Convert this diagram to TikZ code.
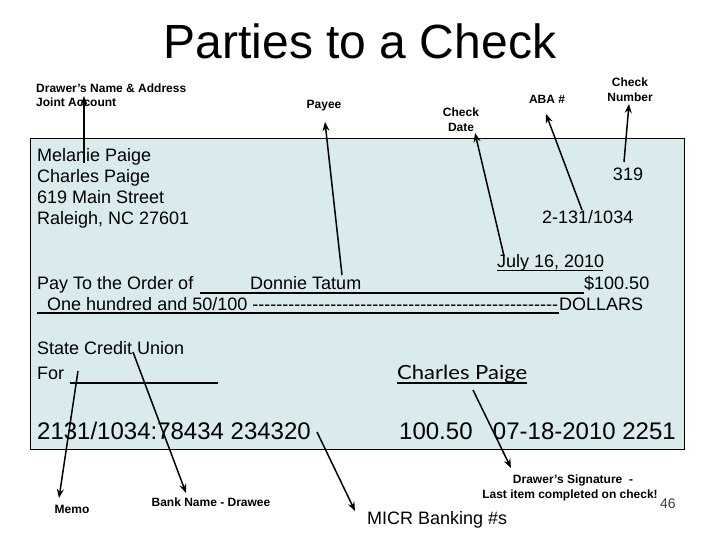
\documentclass[tikz,border=0pt]{standalone}
\usepackage{fontspec}
\setmainfont{Liberation Sans}
\newfontfamily\sigfont{Lato}
\usetikzlibrary{arrows.meta}
\definecolor{checkfill}{RGB}{218,235,238}
\begin{document}
\begin{tikzpicture}[x=1pt,y=-1pt,
  lbl/.style={inner sep=0pt,anchor=base,font=\fontsize{12}{14}\selectfont\bfseries},
  txt/.style={inner sep=0pt,anchor=base west,font=\fontsize{18}{21}\selectfont},
  micr/.style={inner sep=0pt,anchor=base west,font=\fontsize{24}{28}\selectfont},
  arr/.style={line width=1.5pt,-{Stealth[length=9pt,width=7pt]}},
  uline/.style={line width=1.3pt}]
\useasboundingbox (0,0) rectangle (720,540);
\fill[white] (0,0) rectangle (720,540);
% title
\node[inner sep=0pt,anchor=base,font=\fontsize{48}{56}\selectfont] (title) at (360,59) {Parties to a Check};
% check body
\draw[fill=checkfill,line width=1pt] (30,139) rectangle (684,449);
% labels top
\node[lbl,anchor=base west] (drawer1) at (36,93) {Drawer’s Name \& Address};
\node[lbl,anchor=base west] (drawer2) at (36,107) {Joint Account};
\node[lbl] (payee) at (324,109) {Payee};
\node[lbl] (date1) at (461,117) {Check};
\node[lbl] (date2) at (461,132) {Date};
\node[lbl] (aba) at (547,104) {ABA \#};
\node[lbl] (num1) at (630,87) {Check};
\node[lbl] (num2) at (630,102) {Number};
% check contents
\node[txt] (name1) at (37,162) {Melanie Paige};
\node[txt] (name2) at (37,183) {Charles Paige};
\node[txt] (addr1) at (37,204) {619 Main Street};
\node[txt] (addr2) at (37,225) {Raleigh, NC 27601};
\node[txt,anchor=base] (chknum) at (628,181) {319};
\node[txt] (abanum) at (542,224) {2-131/1034};
\node[txt] (date) at (497,267) {July 16, 2010};
\coordinate (dul1) at (497,270.5);
\coordinate (dul2) at (603,270.5);
\draw[uline] (dul1) -- (dul2);
\node[txt] (pay) at (37,289) {Pay To the Order of};
\coordinate (payl) at (200,293);
\coordinate (payr) at (584,293);
\draw[uline] (payl) -- (payr);
\node[txt] (payee2) at (250,289) {Donnie Tatum};
\node[txt] (amount) at (584,289) {\$100.50};
\coordinate (wl) at (37,313);
\coordinate (wr) at (559,313);
\draw[line width=2pt] (wl) -- (wr);
\node[txt] (words) at (47,310) {One hundred and 50/100 \hbox to 306pt{\cleaders\hbox{-}\hfill}};
\node[txt] (dollars) at (559,310) {DOLLARS};
\node[txt] (bank) at (37,354) {State Credit Union};
\node[txt] (for) at (37,379) {For};
\coordinate (forl) at (70,383);
\coordinate (forr) at (218,383);
\draw[uline] (forl) -- (forr);
\node[inner sep=0pt,anchor=base west,font=\sigfont\fontsize{19.5}{22}\selectfont] (sig) at (397,379) {\scalebox{1.13}[1]{Charles Paige}};
\coordinate (sigl) at (397,383);
\coordinate (sigr) at (527,383);
\draw[uline] (sigl) -- (sigr);
\node[micr] (micr1) at (37,439) {2131/1034:78434 234320};
\node[micr] (micr2) at (399,439) {100.50\hspace{0.85em}07-18-2010 2251};
% bottom labels
\node[lbl] (memo) at (72,513) {Memo};
\node[lbl] (bankname) at (211,506) {Bank Name - Drawee};
\node[lbl] (sig1) at (573,483) {Drawer’s Signature\ \ -};
\node[lbl] (sig2) at (570,498) {Last item completed on check!};
\node[inner sep=0pt,anchor=base west,font=\fontsize{14}{16}\selectfont,text=black!75] (page) at (660,508) {46};
\node[inner sep=0pt,anchor=base west,font=\fontsize{18}{21}\selectfont] (micrlbl) at (367,524) {MICR Banking \#s};
% arrows
\coordinate (a1s) at (84,163); \coordinate (a1e) at (84,96);
\draw[arr] (a1s) -- (a1e);
\coordinate (a2s) at (342,275); \coordinate (a2e) at (325,122);
\draw[arr] (a2s) -- (a2e);
\coordinate (a3s) at (504,256); \coordinate (a3e) at (475,133);
\draw[arr] (a3s) -- (a3e);
\coordinate (a4s) at (582,210); \coordinate (a4e) at (546,114);
\draw[arr] (a4s) -- (a4e);
\coordinate (a5s) at (624,162); \coordinate (a5e) at (629,104);
\draw[arr] (a5s) -- (a5e);
\coordinate (a6s) at (78,371); \coordinate (a6e) at (59,498);
\draw[arr] (a6s) -- (a6e);
\coordinate (a7s) at (133,352); \coordinate (a7e) at (186,493);
\draw[arr] (a7s) -- (a7e);
\coordinate (a8s) at (317,432); \coordinate (a8e) at (355,511);
\draw[arr] (a8s) -- (a8e);
\coordinate (a9s) at (473,390); \coordinate (a9e) at (511,468);
\draw[arr] (a9s) -- (a9e);
\end{tikzpicture}
\end{document}
